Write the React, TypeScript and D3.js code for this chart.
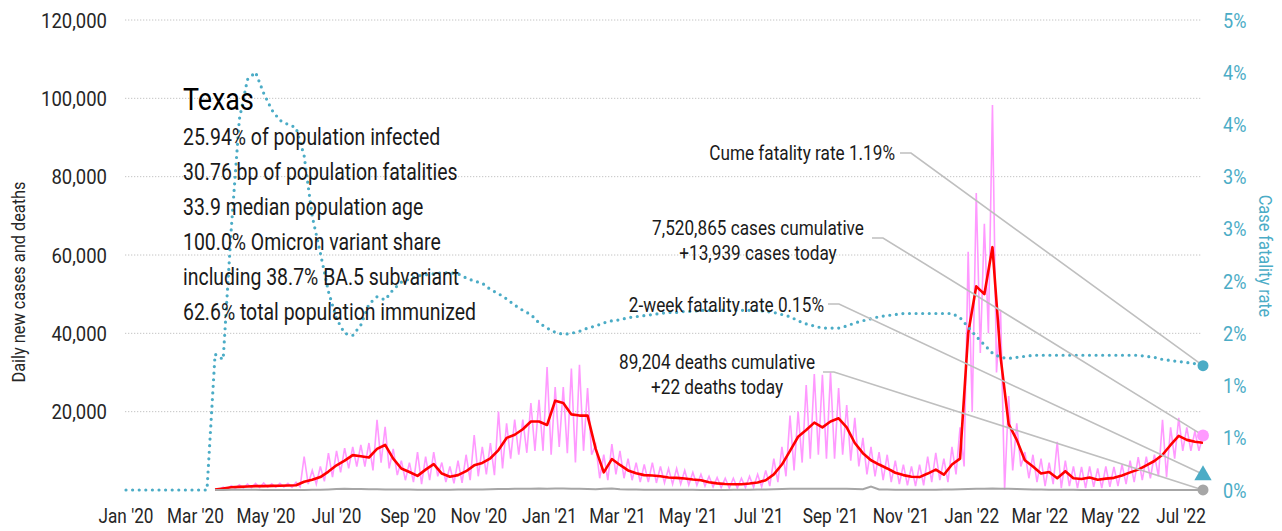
import * as d3 from 'd3';

const width = 1282;
const height = 531;
const plot = { left: 126, right: 1203, top: 20, bottom: 490 };

// weekly samples, week 0 = Jan 1 2020, last week = Jul 20 2022
const startDate = new Date(2020, 0, 1);
const weekCount = 134;

// 7-day average of new cases (red line)
const casesAvg = [
  null, null, null, null, null, null, null, null, null, null,
  null, 100, 400, 700, 800, 900, 1000, 1000, 1050, 1100,
  1150, 1200, 2100, 2600, 3300, 4700, 6300, 7500, 8900, 8600,
  8300, 10500, 11500, 8000, 5500, 4600, 3600, 5200, 6600, 4200,
  3400, 3800, 4800, 6300, 6900, 8100, 10200, 13300, 14100, 15500,
  17500, 17500, 16600, 22800, 22200, 19300, 19000, 19000, 10500, 4500,
  7900, 6400, 5000, 4300, 3800, 3700, 3500, 3200, 3100, 2950,
  2700, 2500, 2000, 1700, 1550, 1450, 1450, 1650, 1900, 2500,
  4000, 6500, 10000, 13600, 15300, 17200, 16000, 17500, 18300, 16000,
  12000, 9400, 7600, 6500, 5500, 4400, 3800, 3400, 3300, 4200,
  5200, 3900, 6500, 8000, 40000, 52000, 50000, 62000, 34000, 16800,
  12800, 7600, 6000, 4200, 4600, 3000, 4800, 3000, 2800, 3200,
  2600, 2900, 3100, 3700, 4500, 5200, 6300, 7400, 9000, 11500,
  13800, 12800, 12300, 12080,
];

// daily new cases, weekly highs and lows (pink line)
const casesHigh = [
  null, null, null, null, null, null, null, null, null, null,
  null, 300, 700, 1100, 1300, 1500, 1700, 1800, 1600, 1700,
  1700, 2000, 8500, 5000, 6000, 9400, 10000, 10700, 11000, 11500,
  12000, 17900, 16100, 10500, 7500, 7000, 9700, 8500, 9700, 7000,
  6000, 7500, 9000, 14000, 11000, 12000, 20000, 17000, 18000, 18000,
  22200, 23000, 31400, 26300, 26300, 31000, 32000, 26000, 11500, 9000,
  11700, 10000, 8000, 7000, 6500, 7000, 6000, 5500, 5500, 5000,
  4500, 4000, 3500, 3200, 3000, 3000, 3000, 3500, 4000, 5000,
  8000, 11000, 19000, 20000, 26800, 29600, 29400, 30000, 26000, 21700,
  18400, 13300, 11000, 9700, 9000, 7500, 6500, 6000, 6500, 8500,
  9500, 8000, 11000, 16000, 60800, 75800, 68000, 98300, 46000, 24000,
  17000, 9700, 9000, 8000, 7000, 12300, 7500, 6000, 5900, 6000,
  5500, 6000, 5900, 6500, 7500, 8400, 8500, 9000, 17900, 16000,
  18400, 16000, 15000, 13939,
];

const casesLow = [
  null, null, null, null, null, null, null, null, null, null,
  null, 0, 200, 400, 500, 600, 600, 700, 700, 800,
  700, 800, 1500, 1500, 2200, 3300, 4500, 5500, 6000, 6000,
  5000, 7000, 5500, 3800, 2500, 2000, 1500, 2500, 3500, 2000,
  1700, 1800, 2500, 3500, 4000, 3800, 5500, 8000, 9000, 9500,
  10000, 10000, 9000, 11000, 9400, 7000, 10000, 9000, 3000, 2500,
  4000, 3000, 2500, 2000, 2000, 1800, 1800, 1500, 1500, 1300,
  1200, 1000, 800, 600, 500, 500, 600, 700, 800, 1000,
  2000, 3500, 5000, 7000, 8000, 9000, 8000, 8000, 9000, 7500,
  6000, 4000, 3500, 2500, 2000, 1500, 1200, 1000, 1200, 2000,
  2500, 2000, 4000, 6000, 20000, 35000, 40000, 30000, 0, 5000,
  6000, 3000, 2000, 1000, 1500, 500, 1000, 500, 500, 800,
  500, 800, 1000, 1500, 2000, 2500, 3000, 3500, 3300, 8000,
  10000, 10000, 10000, null,
];

// daily deaths (gray line)
const deaths = [
  null, null, null, null, null, null, null, null, null, null,
  null, 5, 20, 40, 45, 40, 35, 30, 30, 25,
  25, 25, 30, 40, 80, 150, 250, 300, 250, 250,
  200, 200, 150, 120, 100, 100, 90, 80, 70, 70,
  80, 100, 120, 130, 150, 200, 250, 250, 300, 300,
  350, 400, 350, 400, 400, 350, 300, 250, 200, 350,
  400, 200, 150, 100, 80, 70, 60, 50, 40, 40,
  35, 30, 30, 30, 30, 35, 40, 60, 100, 150,
  200, 250, 300, 350, 350, 350, 350, 350, 300, 300,
  250, 200, 900, 150, 100, 80, 70, 60, 60, 70,
  80, 100, 150, 200, 250, 300, 350, 400, 350, 300,
  250, 200, 150, 100, 80, 60, 50, 40, 30, 25,
  20, 20, 20, 20, 20, 20, 25, 25, 30, 30,
  30, 30, 25, 22,
];

// cumulative case fatality rate, percent (dotted line)
const fatalityRate = [
  0, 0, 0, 0, 0, 0, 0, 0, 0, 0,
  0, 1.3, 1.25, 2.5, 3.55, 3.93, 4.0, 3.8, 3.64, 3.54,
  3.5, 3.47, 3.2, 2.62, 2.27, 1.9, 1.64, 1.5, 1.48, 1.58,
  1.78, 1.85, 1.82, 1.92, 1.99, 2.02, 2.05, 2.06, 2.07, 2.08,
  2.08, 2.07, 2.03, 2.0, 1.98, 1.92, 1.88, 1.83, 1.77, 1.72,
  1.68, 1.6, 1.55, 1.51, 1.49, 1.5, 1.52, 1.55, 1.57, 1.6,
  1.62, 1.63, 1.65, 1.66, 1.67, 1.68, 1.69, 1.7, 1.7, 1.71,
  1.71, 1.72, 1.72, 1.72, 1.72, 1.72, 1.72, 1.72, 1.72, 1.71,
  1.7, 1.68, 1.66, 1.62, 1.59, 1.57, 1.55, 1.55, 1.55, 1.57,
  1.6, 1.62, 1.64, 1.66, 1.67, 1.68, 1.69, 1.69, 1.69, 1.69,
  1.69, 1.69, 1.69, 1.65, 1.56, 1.47, 1.39, 1.31, 1.27, 1.26,
  1.27, 1.28, 1.29, 1.29, 1.29, 1.29, 1.29, 1.29, 1.29, 1.29,
  1.29, 1.29, 1.29, 1.29, 1.29, 1.29, 1.28, 1.27, 1.25, 1.24,
  1.23, 1.22, 1.21, 1.19,
];

const caseTicks = [20000, 40000, 60000, 80000, 100000, 120000];
const rateTicks = [0, 0.5, 1, 1.5, 2, 2.5, 3, 3.5, 4, 4.5];
const rateTickLabels = ['0%', '1%', '1%', '2%', '2%', '3%', '3%', '4%', '4%', '5%'];

const stateName = 'Texas';
const statLines = [
  '25.94% of population infected',
  '30.76 bp of population fatalities',
  '33.9 median population age',
  '100.0% Omicron variant share',
  'including 38.7% BA.5 subvariant',
  '62.6% total population immunized',
];

const lastCases = 13939;
const lastDeaths = 22;
const cumeRate = 1.19;
const twoWeekRate = 0.15;

const font = 'Roboto, sans-serif';
const SX = 0.86; // squeeze to imitate a condensed face
const teal = '#4bacc6';
const pink = '#ff99ff';
const leader = '#bfbfbf';

// condensed text helper
function T({ x, y, rot = 0, sx = SX, children, ...rest }: any) {
  return (
    <text transform={`translate(${x},${y}) rotate(${rot}) scale(${sx},1)`} {...rest}>
      {children}
    </text>
  );
}

export default function App() {
  const weeks = d3.range(weekCount).map((k) => d3.timeDay.offset(startDate, 7 * k));
  const endDate = weeks[weeks.length - 1];

  const x = d3.scaleTime().domain([startDate, endDate]).range([plot.left, plot.right]);
  const yCases = d3.scaleLinear().domain([0, 120000]).range([plot.bottom, plot.top]);
  const yRate = d3.scaleLinear().domain([0, 4.5]).range([plot.bottom, plot.top]);

  const xTicks = d3.timeMonth.every(2).range(startDate, d3.timeDay.offset(endDate, 1));
  const fmt = d3.timeFormat("%b '%y");

  // pink: alternate weekly high / mid-week low
  const pinkPts: [Date, number][] = [];
  weeks.forEach((d, k) => {
    if (casesHigh[k] != null) pinkPts.push([d, casesHigh[k] as number]);
    if (casesLow[k] != null) pinkPts.push([d3.timeHour.offset(d, 84), casesLow[k] as number]);
  });

  const caseLine = d3.line<[Date, number | null]>()
    .defined((d) => d[1] != null)
    .x((d) => x(d[0]))
    .y((d) => yCases(d[1] as number));
  const rateLine = d3.line<[Date, number]>()
    .x((d) => x(d[0]))
    .y((d) => yRate(d[1]));

  const redPath = caseLine(weeks.map((d, k) => [d, casesAvg[k]]));
  const pinkPath = caseLine(pinkPts);
  const grayPath = caseLine(weeks.map((d, k) => [d, deaths[k]]));
  const ratePath = rateLine(weeks.map((d, k) => [d, fatalityRate[k]]));

  const ex = x(endDate);
  const annotations = [
    { lines: [`Cume fatality rate ${cumeRate}%`], anchor: 'end', tx: 895, ty: 160, lx: 900, ly: 153, to: [ex, yRate(cumeRate)] },
    { lines: ['7,520,865 cases cumulative', `+${d3.format(',')(lastCases)} cases today`], anchor: 'middle', tx: 758, ty: 235, lx: 872, ly: 238, to: [ex, yCases(lastCases)] },
    { lines: [`2-week fatality rate ${twoWeekRate}%`], anchor: 'end', tx: 824, ty: 312, lx: 828, ly: 304, to: [ex, yRate(twoWeekRate)] },
    { lines: ['89,204 deaths cumulative', `+${lastDeaths} deaths today`], anchor: 'middle', tx: 717, ty: 369, lx: 823, ly: 372, to: [ex, yCases(lastDeaths)] },
  ];

  const tri = d3.symbol().type(d3.symbolTriangle).size(130)();

  return (
    <svg width={width} height={height} style={{ position: 'absolute', left: 0, top: 0, fontFamily: font }}>
      <rect width={width} height={height} fill="#fff" />
      {/* gridlines */}
      {caseTicks.map((t) => (
        <line key={t} x1={125} x2={1202} y1={yCases(t)} y2={yCases(t)} stroke="#c4c4c4" strokeWidth={1} strokeDasharray="1.3 1.7" />
      ))}
      {/* left axis labels */}
      {caseTicks.map((t) => (
        <T key={t} x={107} y={yCases(t)} dy="0.36em" textAnchor="end" fontSize={21} sx={0.88} fill="#262626">
          {d3.format(',')(t)}
        </T>
      ))}
      {/* right axis labels */}
      {rateTicks.map((t, i) => (
        <T key={t} x={1223} y={yRate(t)} dy="0.36em" fontSize={21} fill={teal}>{rateTickLabels[i]}</T>
      ))}
      {/* x labels */}
      {xTicks.map((d) => (
        <T key={+d} x={x(d)} y={523} textAnchor="middle" fontSize={20} fill="#262626">{fmt(d)}</T>
      ))}
      <T x={25} y={282} rot={-90} textAnchor="middle" fontSize={19} fill="#262626">Daily new cases and deaths</T>
      <T x={1259} y={256} rot={90} textAnchor="middle" fontSize={19} fill={teal}>Case fatality rate</T>

      {/* series */}
      <path d={pinkPath || ''} fill="none" stroke={pink} strokeWidth={1.6} />
      <path d={redPath || ''} fill="none" stroke="#ff0000" strokeWidth={2.6} strokeLinejoin="round" />
      <path d={grayPath || ''} fill="none" stroke="#a6a6a6" strokeWidth={2} />
      <path d={ratePath || ''} fill="none" stroke={teal} strokeWidth={3.2} strokeDasharray="0 6.6" strokeLinecap="round" />

      {/* stats block */}
      <T x={183} y={110} fontSize={32} sx={0.84} fill="#000">{stateName}</T>
      {statLines.map((s, i) => (
        <T key={s} x={183} y={145 + i * 35} fontSize={24} sx={0.81} fill="#1a1a1a">{s}</T>
      ))}

      {/* annotations */}
      {annotations.map((a, i) => (
        <g key={i}>
          <polyline points={`${a.lx},${a.ly} ${a.lx + 11},${a.ly} ${a.to[0]},${a.to[1]}`} fill="none" stroke={leader} strokeWidth={1.6} />
          {a.lines.map((l, j) => (
            <T key={j} x={a.tx} y={a.ty + j * 25} textAnchor={a.anchor} fontSize={20} fill="#1a1a1a">{l}</T>
          ))}
        </g>
      ))}

      {/* end markers */}
      <circle cx={ex} cy={yRate(cumeRate)} r={5.5} fill={teal} />
      <circle cx={ex} cy={yCases(lastCases)} r={6} fill={pink} />
      <path d={tri || ''} transform={`translate(${ex},${yRate(twoWeekRate) + 1})`} fill={teal} />
      <circle cx={ex} cy={yCases(lastDeaths)} r={5.5} fill="#a6a6a6" />
    </svg>
  );
}
